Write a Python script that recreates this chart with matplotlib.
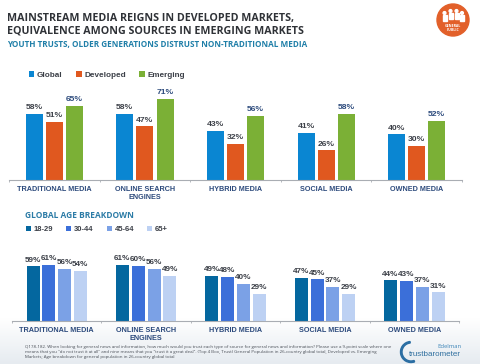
import numpy as np
import matplotlib
matplotlib.use('Agg')
import matplotlib.pyplot as plt
from matplotlib.patches import Circle, Wedge, Rectangle

plt.rcParams['font.family'] = ['Open Sans', 'DejaVu Sans']

categories = ['TRADITIONAL MEDIA', 'ONLINE SEARCH\nENGINES', 'HYBRID MEDIA', 'SOCIAL MEDIA', 'OWNED MEDIA']

# top panel
global_vals = [58, 58, 43, 41, 40]
developed_vals = [51, 47, 32, 26, 30]
emerging_vals = [65, 71, 56, 58, 52]

# bottom panel
age_18_29 = [59, 61, 49, 47, 44]
age_30_44 = [61, 60, 48, 45, 43]
age_45_64 = [56, 56, 40, 37, 37]
age_65 = [54, 49, 29, 29, 31]

W, H = 480, 364
NAVY = '#2c4a7c'
GREY = '#3c4048'
AXIS = '#a9adb3'
ARIAL = ['Liberation Sans', 'DejaVu Sans']


def px_axes(left, right, top, bottom):
    # axes from pixel edges of the picture
    return fig.add_axes([left / W, 1 - bottom / H, (right - left) / W, (bottom - top) / H])


def draw_panel(ax, series, colors, names, bar_w, step, label_colors, fs):
    x = np.arange(len(categories))
    n = len(series)
    for i, vals in enumerate(series):
        pos = x + (i - (n - 1) / 2) * step
        ax.bar(pos, vals, width=bar_w, color=colors[i], label=names[i], zorder=2)
        for p, v in zip(pos, vals):
            ax.annotate(f'{v}%', (p, v), xytext=(0, 2.0), textcoords='offset points', ha='center', va='bottom',
                        fontsize=fs, color=label_colors[i], fontweight='bold', family=ARIAL)
    ax.set_xlim(-0.5, len(categories) - 0.5)
    ax.patch.set_alpha(0)
    for s in ['top', 'left', 'right']:
        ax.spines[s].set_visible(False)
    ax.spines['bottom'].set_color(AXIS)
    ax.spines['bottom'].set_linewidth(0.8)
    ax.set_yticks([])
    ax.set_xticks(np.arange(-0.5, len(categories)), minor=True)
    ax.tick_params(axis='x', which='minor', length=1.5, color=AXIS, width=0.6, direction='out')
    ax.set_xticks(x)
    ax.set_xticklabels(categories, fontsize=5.25, fontweight='bold', color=NAVY, linespacing=1.2, family=ARIAL)
    ax.tick_params(axis='x', which='major', length=0, pad=4.5)


fig = plt.figure(figsize=(W / 100, H / 100), dpi=100, facecolor='white')

# page layer in pixel coords
bg = fig.add_axes([0, 0, 1, 1])
bg.axis('off')
grad = np.linspace(0, 1, 64)[:, None]
bg.imshow(grad, extent=[0, W, H, 318], cmap=matplotlib.colors.LinearSegmentedColormap.from_list(
    'page', ['#ffffff', '#e6ebf0']), aspect='auto', zorder=0)
bg.set_xlim(0, W)
bg.set_ylim(H, 0)

bg.text(7, 18, 'MAINSTREAM MEDIA REIGNS IN DEVELOPED MARKETS,', fontsize=7.7, fontweight='bold',
        color='#2f3237', va='center')
bg.text(7, 31, 'EQUIVALENCE AMONG SOURCES IN EMERGING MARKETS', fontsize=7.7, fontweight='bold',
        color='#2f3237', va='center')
bg.text(7, 45, 'YOUTH TRUSTS, OLDER GENERATIONS DISTRUST NON-TRADITIONAL MEDIA', fontsize=5.85,
        fontweight='bold', color='#1f7fa8', va='center')
bg.text(25, 215.5, 'GLOBAL AGE BREAKDOWN', fontsize=6.0, fontweight='bold', color='#2b7ba6', va='center')

footnote = ('Q178-182. When looking for general news and information, how much would you trust each type of source '
            'for general news and information? Please use a 9-point scale where one\n'
            'means that you "do not trust it at all" and nine means that you "trust it a great deal". '
            '(Top 4 Box, Trust) General Population in 26-country global total, Developed vs. Emerging\n'
            'Markets; Age breakdown for general population in 26-country global total')
bg.text(25, 352, footnote, fontsize=3.2, color='#4a4f57', va='center', linespacing=1.25)

# general public badge
bg.add_patch(Circle((453, 20), 16, color='#e2602a', zorder=2))
for cx, cy, r in [(444.5, 13, 2.0), (450.5, 11, 2.0), (456.5, 11, 2.0), (462, 13, 2.0)]:
    bg.add_patch(Circle((cx, cy), r * 0.7, color='white', zorder=3))
    bg.add_patch(Rectangle((cx - r, cy + 1.5), 2 * r, 6.5, color='white', zorder=3))
bg.text(453, 26, 'GENERAL', fontsize=2.5, color='white', ha='center', va='center', fontweight='bold', zorder=3)
bg.text(453, 30, 'PUBLIC', fontsize=2.5, color='white', ha='center', va='center', fontweight='bold', zorder=3)

# trustbarometer logo
bg.add_patch(Wedge((411, 352), 10.5, 70, 265, width=1.5, color='#2b6ea3', zorder=2))
bg.text(461, 347, 'Edelman', fontsize=4.2, color='#3f86b8', ha='right', va='center')
bg.text(409, 354, 'trustbarometer', fontsize=5.8, color='#2f6f9f', ha='left', va='center', family=ARIAL)

ax1 = px_axes(9, 462, 90, 180)
draw_panel(ax1, [global_vals, developed_vals, emerging_vals], ['#0a86d2', '#e0581f', '#7bb036'],
           ['Global', 'Developed', 'Emerging'], 17 / 90.6, 20.1 / 90.6, [GREY, GREY, NAVY], 6.1)
ax1.set_ylim(0, 90 / 1.14)

ax2 = px_axes(12, 459, 240, 321)
draw_panel(ax2, [age_18_29, age_30_44, age_45_64, age_65], ['#04679f', '#3b6fd9', '#7ba1e6', '#bdd1f3'],
           ['18-29', '30-44', '45-64', '65+'], 13 / 89.4, 15.8 / 89.4, [GREY] * 4, 5.9)
ax2.set_ylim(0, 81 / 0.925)

fig.legend(*ax1.get_legend_handles_labels(), loc='center left', bbox_to_anchor=(28.5 / W, 1 - 75 / H), ncol=3,
           frameon=False, prop={'family': ARIAL, 'weight': 'bold', 'size': 5.9}, handlelength=0.7, handleheight=0.7,
           handletextpad=0.35, columnspacing=1.6, labelcolor=GREY, borderpad=0, borderaxespad=0)
fig.legend(*ax2.get_legend_handles_labels(), loc='center left', bbox_to_anchor=(25.5 / W, 1 - 229.5 / H), ncol=4,
           frameon=False, prop={'family': ARIAL, 'weight': 'bold', 'size': 5.5}, handlelength=0.7, handleheight=0.7,
           handletextpad=0.35, columnspacing=1.7, labelcolor=GREY, borderpad=0, borderaxespad=0)

fig.savefig('out.png', dpi=100)
